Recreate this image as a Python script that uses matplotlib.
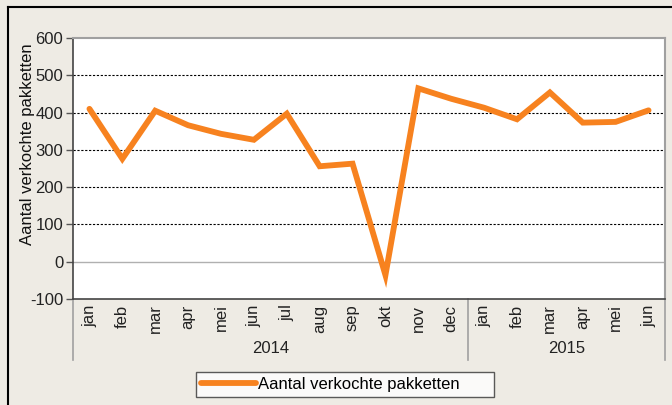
import matplotlib
matplotlib.use("Agg")
import matplotlib.pyplot as plt
from matplotlib.lines import Line2D

plt.rcParams["font.family"] = ["Liberation Sans", "DejaVu Sans"]

# Data
months = ["jan", "feb", "mar", "apr", "mei", "jun", "jul", "aug", "sep", "okt", "nov", "dec",
          "jan", "feb", "mar", "apr", "mei", "jun"]
years = ["2014", "2015"]
year_counts = [12, 6]
sales = [410, 276, 405, 366, 343, 327, 397, 256, 263, -36, 465, 437,
         413, 382, 454, 373, 375, 406]
yticks = [-100, 0, 100, 200, 300, 400, 500, 600]

bg = "#eeebe4"
orange = "#f7821f"
fs = 12

fig = plt.figure(figsize=(6.72, 4.05), dpi=100, facecolor=bg)
W, H = 672, 405

# outer frame (top and left visible)
fig.add_artist(Line2D([8 / W, 8 / W], [0, 1 - 7 / H], color="black", lw=1.5))
fig.add_artist(Line2D([8 / W, 1], [1 - 7 / H, 1 - 7 / H], color="black", lw=1.5))

ax = fig.add_axes([73 / W, (H - 299) / H, 592 / W, 261 / H])
ax.set_facecolor("white")

x = list(range(len(sales)))
ax.plot(x, sales, color=orange, lw=4.2, solid_capstyle="round", solid_joinstyle="miter",
        label="Aantal verkochte pakketten", zorder=3)

ax.set_xlim(-0.5, len(months) - 0.5)
ax.set_ylim(-100, 600)
ax.set_yticks(yticks)
ax.set_yticklabels([str(v) for v in yticks], fontsize=fs, color="#222222")
ax.tick_params(axis="y", length=5, width=1, color="#555555", pad=2)

# grid lines
for v in yticks[2:-1]:
    ax.axhline(v, color="black", lw=0.8, ls=(0, (2, 1.5)), zorder=1)
ax.axhline(0, color="#b0b0b0", lw=1, zorder=1)

ax.set_xticks(x)
ax.set_xticklabels(months, rotation=90, fontsize=fs, color="#222222")
ax.tick_params(axis="x", length=0, pad=4)

for side in ["left", "bottom"]:
    ax.spines[side].set_color("#444444")
    ax.spines[side].set_linewidth(1.2)
for side in ["top", "right"]:
    ax.spines[side].set_color("#a0a0a0")
    ax.spines[side].set_linewidth(1.5)

fig.text(28 / W, (H - 144) / H, "Aantal verkochte pakketten", rotation=90,
         ha="center", va="center", fontsize=fs, color="#111111")

# year groups on the category axis
tr = ax.get_xaxis_transform()
start = -0.5
bounds = [start]
for yr, n in zip(years, year_counts):
    mid = start + n / 2
    ax.text(mid, -0.19, yr, transform=tr, ha="center", va="center", fontsize=fs, color="#222222")
    start += n
    bounds.append(start)
for b in bounds:
    ax.plot([b, b], [0, -0.235], transform=tr, color="#a0a0a0", lw=1.2, clip_on=False)

# legend box stretched to the reference width
leg = fig.legend(loc="center", bbox_to_anchor=(196 / W, (H - 398) / H, 298 / W, 27 / H),
                 mode="expand", fontsize=fs, frameon=True, fancybox=False,
                 edgecolor="#333333", handlelength=3.3, handletextpad=0.1,
                 borderpad=0.3, borderaxespad=0)
leg.get_frame().set_linewidth(1.0)

fig.savefig("out.png", dpi=100, facecolor=bg)
